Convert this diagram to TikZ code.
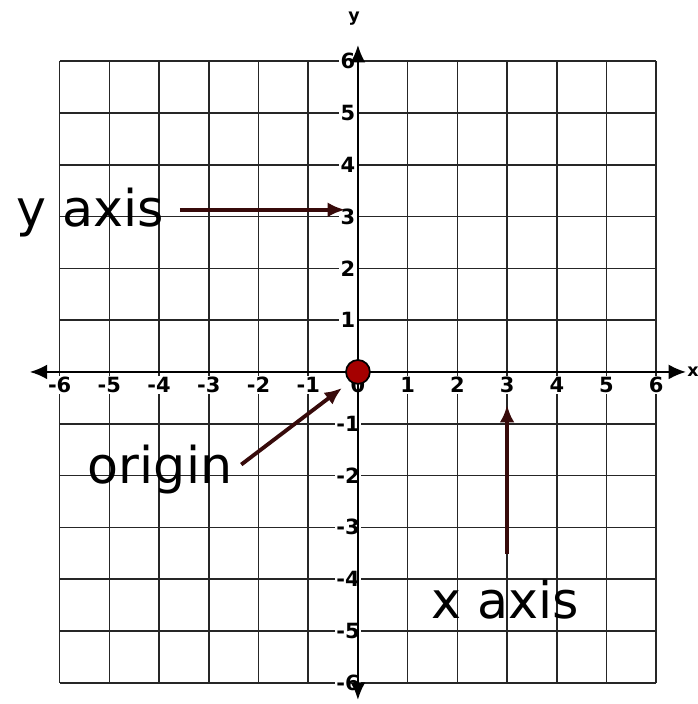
\documentclass[tikz,border=0pt]{standalone}
\usepackage{fontspec}
\setmainfont{DejaVu Sans}
\usetikzlibrary{arrows.meta,positioning}
\definecolor{note}{RGB}{55,10,10}
\definecolor{dot}{RGB}{165,0,0}

\begin{document}
\begin{tikzpicture}[x=1cm,y=1.042cm,
  gridline/.style={black!85,line width=0.9pt},
  axisline/.style={black,line width=1.2pt,{Latex[length=3.5mm,width=3mm]}-{Latex[length=3.5mm,width=3mm]}},
  notearrow/.style={note,line width=2.2pt,-{Latex[length=3.5mm,width=3mm]}},
  tick/.style={fill=white,inner sep=0.8pt,font=\bfseries\fontsize{12}{12}\selectfont},
  notelbl/.style={inner sep=1pt,font=\fontsize{29}{32}\selectfont}]
\useasboundingbox (-7.20,-6.41) rectangle (6.84,7.18);
\foreach \k in {-6,...,6} {
  \draw[gridline] (\k,-6) -- (\k,6);
  \draw[gridline] (-6,\k) -- (6,\k);
}
\foreach \k in {-6,...,-1,1,2,...,6} {
  \node[tick] (xt\k) at (\k,-0.25) {\k};
  \node[tick] (yt\k) at (-0.2,\k) {\k};
}
\node[tick,fill=none] (xt0) at (0,-0.25) {0};
\draw[axisline] (-6.6,0) -- (6.6,0);
\draw[axisline] (0,-6.33) -- (0,6.31);
\node[font=\bfseries,inner sep=0pt] (xname) at (6.74,0) {x};
\node[font=\bfseries] (yname) at (-0.08,6.83) {y};
\node[circle,fill=dot,draw=black,line width=1pt,minimum size=0.48cm,inner sep=0] (orig) at (0,0) {};
% labels
\node[notelbl] (yaxislbl) at (-5.39,3.07) {y axis};
\coordinate (ytip) at (-0.26,3.13);
\draw[notearrow,shorten <=8pt] (yaxislbl.east |- ytip) -- (ytip);
\node[notelbl] (originlbl) at (-3.98,-1.89) {origin};
\coordinate (otip) at (-0.32,-0.31);
\draw[notearrow,shorten <=5pt] (originlbl.east) -- (otip);
\node[notelbl] (xaxislbl) at (2.96,-4.40) {x axis};
\coordinate (xtip) at (3.0,-0.64);
\draw[notearrow,shorten <=14pt] (xaxislbl.north -| xtip) -- (xtip);
\end{tikzpicture}
\end{document}
